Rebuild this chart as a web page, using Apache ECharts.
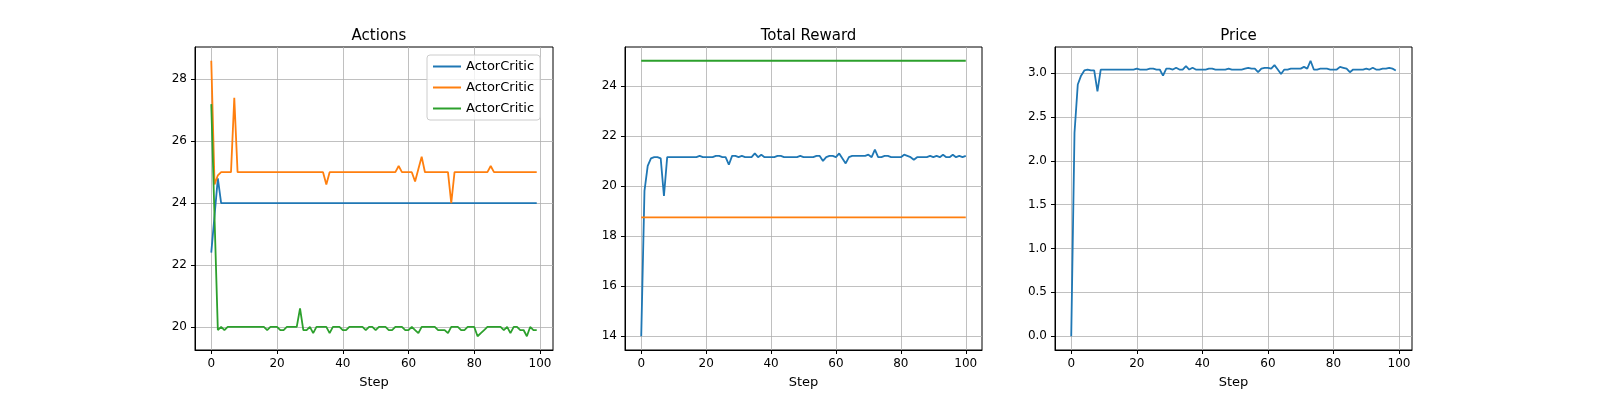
<!DOCTYPE html>
<html><head><meta charset="utf-8">
<script src="https://cdn.jsdelivr.net/npm/echarts@6/dist/echarts.min.js"></script>
<style>html,body{margin:0;padding:0;background:#fff}#c{width:1600px;height:400px}</style>
</head><body><div id="c"></div>
<script>
const actionsBlue=[22.4,23.6,24.8,24,24,24,24,24,24,24,24,24,24,24,24,24,24,24,24,24,24,24,24,24,24,24,24,24,24,24,24,24,24,24,24,24,24,24,24,24,24,24,24,24,24,24,24,24,24,24,24,24,24,24,24,24,24,24,24,24,24,24,24,24,24,24,24,24,24,24,24,24,24,24,24,24,24,24,24,24,24,24,24,24,24,24,24,24,24,24,24,24,24,24,24,24,24,24,24,24];
const actionsOrange=[28.6,24.6,24.9,25,25,25,25,27.4,25,
25,25,25,25,25,25,25,25,25,25,25,25,25,25,25,25,25,25,25,25,25,25,25,25,25,25,
24.6,
25,25,25,25,25,25,25,25,25,25,25,25,25,25,25,25,25,25,25,25,25,
25.2,25,25,25,25,24.7,25.1,25.5,
25,25,25,25,25,25,25,25,
24.0,
25,25,25,25,25,25,25,25,25,25,25,
25.2,
25,25,25,25,25,25,25,25,25,25,25,25,25,25];
const actionsGreen=[27.2,23.5,19.9,20,19.9,20,20,20,20,20,
20,20,20,20,20,20,20,19.9,20,20,
20,19.9,19.9,20,20,20,20,20.6,19.9,19.9,
20,19.8,20,20,20,20,19.8,20,20,20,
19.9,19.9,20,20,20,20,20,19.9,20,20,
19.9,20,20,20,19.9,19.9,20,20,20,19.9,
19.9,20,19.9,19.8,20,20,20,20,20,19.9,
19.9,19.9,19.8,20,20,20,19.9,19.9,20,20,
20,19.7,19.8,19.9,20,20,20,20,20,19.9,
20,19.8,20,20,19.9,19.9,19.7,20,19.9,19.9];
const rewardBlue=[14,19.8,20.8,21.1,21.15,21.15,21.1,19.6,21.15,21.15,
21.15,21.15,21.15,21.15,21.15,21.15,21.15,21.15,21.2,21.15,
21.15,21.15,21.15,21.2,21.2,21.15,21.15,20.85,21.2,21.2,
21.15,21.2,21.15,21.15,21.15,21.3,21.15,21.25,21.15,21.15,
21.15,21.15,21.2,21.2,21.15,21.15,21.15,21.15,21.15,21.2,
21.15,21.15,21.15,21.15,21.2,21.2,21.0,21.15,21.2,21.2,
21.15,21.3,21.1,20.9,21.15,21.2,21.2,21.2,21.2,21.2,
21.25,21.15,21.45,21.15,21.15,21.2,21.2,21.15,21.15,21.15,
21.15,21.25,21.2,21.15,21.05,21.15,21.15,21.15,21.15,21.2,
21.15,21.2,21.15,21.25,21.15,21.15,21.25,21.15,21.2,21.15,21.2];
const rewardOrange=[18.75,18.75,18.75,18.75,18.75,18.75,18.75,18.75,18.75,18.75,18.75,18.75,18.75,18.75,18.75,18.75,18.75,18.75,18.75,18.75,18.75,18.75,18.75,18.75,18.75,18.75,18.75,18.75,18.75,18.75,18.75,18.75,18.75,18.75,18.75,18.75,18.75,18.75,18.75,18.75,18.75,18.75,18.75,18.75,18.75,18.75,18.75,18.75,18.75,18.75,18.75,18.75,18.75,18.75,18.75,18.75,18.75,18.75,18.75,18.75,18.75,18.75,18.75,18.75,18.75,18.75,18.75,18.75,18.75,18.75,18.75,18.75,18.75,18.75,18.75,18.75,18.75,18.75,18.75,18.75,18.75,18.75,18.75,18.75,18.75,18.75,18.75,18.75,18.75,18.75,18.75,18.75,18.75,18.75,18.75,18.75,18.75,18.75,18.75,18.75,18.75];
const rewardGreen=[25,25,25,25,25,25,25,25,25,25,25,25,25,25,25,25,25,25,25,25,25,25,25,25,25,25,25,25,25,25,25,25,25,25,25,25,25,25,25,25,25,25,25,25,25,25,25,25,25,25,25,25,25,25,25,25,25,25,25,25,25,25,25,25,25,25,25,25,25,25,25,25,25,25,25,25,25,25,25,25,25,25,25,25,25,25,25,25,25,25,25,25,25,25,25,25,25,25,25,25,25];
const price=[0,2.32,2.87,2.97,3.03,3.04,3.03,3.03,2.79,3.04,
3.04,3.04,3.04,3.04,3.04,3.04,3.04,3.04,3.04,3.04,
3.05,3.04,3.04,3.04,3.05,3.05,3.04,3.04,2.97,3.05,
3.05,3.04,3.06,3.04,3.04,3.08,3.04,3.06,3.04,3.04,
3.04,3.04,3.05,3.05,3.04,3.04,3.04,3.04,3.05,3.04,
3.04,3.04,3.04,3.05,3.06,3.05,3.05,3.01,3.05,3.06,
3.06,3.05,3.09,3.04,2.99,3.04,3.04,3.05,3.05,3.05,
3.05,3.07,3.05,3.14,3.04,3.04,3.05,3.05,3.05,3.04,
3.04,3.04,3.07,3.06,3.05,3.01,3.04,3.04,3.04,3.04,
3.05,3.04,3.06,3.04,3.04,3.05,3.05,3.06,3.05,3.03];
const xTicks=[0,20,40,60,80,100];
const colors=['#1f77b4','#ff7f0e','#2ca02c'];
const F='DejaVu Sans';
const pts=a=>a.map((v,i)=>[i,v]);
const grids=[{left:195,width:358},{left:625,width:357},{left:1055,width:357}];
const xr=[[-4.95,103.95],[-5,105],[-4.95,103.95]];
const yr=[[19.255,29.045,2,20],[13.45,25.55,2,14],[-0.157,3.297,0.5,0]];
const titles=['Actions','Total Reward','Price'];
const axisLine={show:true,onZero:false,lineStyle:{color:'#000',width:1}};
const split={show:true,lineStyle:{color:'#b0b0b0',width:0.8}};
const opt={animation:false,textStyle:{fontFamily:F},
title:titles.map((t,i)=>({text:t,left:grids[i].left+grids[i].width/2,top:24,textAlign:'center',textStyle:{fontFamily:F,fontSize:15,fontWeight:'normal',color:'#000'}})),
grid:grids.map(g=>({left:g.left,width:g.width,top:47,height:303,outerBoundsMode:'none',containLabel:false,show:true,borderColor:'#000',borderWidth:1,backgroundColor:'transparent'})),
xAxis:xr.map((r,i)=>({type:'value',gridIndex:i,min:r[0],max:r[1],name:'Step',nameLocation:'middle',nameGap:26,nameTextStyle:{fontFamily:F,fontSize:13,color:'#000'},axisLine,
 axisLabel:{color:'#000',fontFamily:F,fontSize:12,customValues:xTicks},axisTick:{show:true,length:4,customValues:xTicks,lineStyle:{color:'#000'}},splitLine:split})),
yAxis:yr.map((r,i)=>{const cv=[];for(let v=r[3];v<=r[1]+1e-9;v+=r[2])cv.push(+v.toFixed(2));return {type:'value',gridIndex:i,min:r[0],max:r[1],axisLine,splitLine:split,
 axisLabel:{color:'#000',fontFamily:F,fontSize:12,customValues:cv,formatter:v=>i===2?v.toFixed(1):String(Math.round(v))},axisTick:{show:true,length:4,customValues:cv,lineStyle:{color:'#000'}}};}),
legend:{left:427,top:55,orient:'vertical',itemWidth:28,itemHeight:2,itemGap:8,padding:[5,6,5,6],borderColor:'#ccc',borderWidth:1,borderRadius:3,backgroundColor:'rgba(255,255,255,0.8)',textStyle:{fontFamily:F,fontSize:13,color:'#000'},data:[{name:'a0',icon:'rect'},{name:'a1',icon:'rect'},{name:'a2',icon:'rect'}],formatter:()=>'ActorCritic'},
series:[]};
const add=(name,d,gi,c)=>opt.series.push({name,type:'line',xAxisIndex:gi,yAxisIndex:gi,data:pts(d),showSymbol:false,symbol:'none',lineStyle:{width:1.8,color:c},itemStyle:{color:c}});
add('a0',actionsBlue,0,colors[0]);add('a1',actionsOrange,0,colors[1]);add('a2',actionsGreen,0,colors[2]);
add('r0',rewardBlue,1,colors[0]);add('r1',rewardOrange,1,colors[1]);add('r2',rewardGreen,1,colors[2]);
add('p0',price,2,colors[0]);
echarts.init(document.getElementById('c')).setOption(opt);
</script></body></html>
